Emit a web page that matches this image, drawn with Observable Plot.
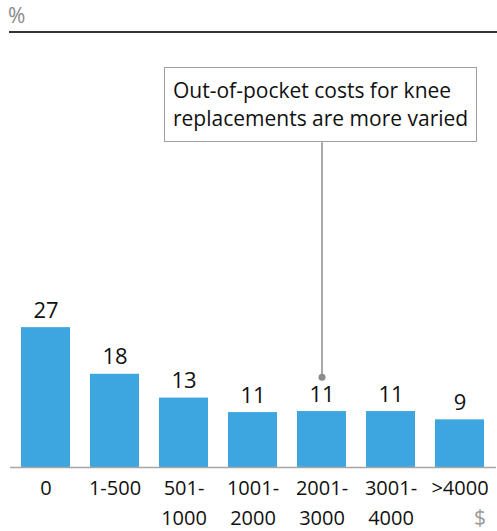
<!DOCTYPE html>
<html>
<head>
<meta charset="utf-8">
<script src="https://cdn.jsdelivr.net/npm/d3@7"></script>
<script src="https://cdn.jsdelivr.net/npm/@observablehq/plot@0.6"></script>
<style>
  html, body { margin: 0; padding: 0; background: #fff; }
  #wrap { position: relative; width: 497px; height: 531px; font-family: "Open Sans", Lato, sans-serif; overflow: hidden; }
  #head { position: relative; height: 40px; }
  #unit { position: absolute; left: 8px; top: 1px; font-size: 21px; color: #8a8a8a; }
  #toprule { position: absolute; left: 9px; right: 0; top: 31px; height: 2px; background: #333; }
  #note { position: absolute; left: 164px; top: 67px; width: 313px; height: 75px; border: 1px solid #a0a0a0; background: #fff;
          font-size: 21px; line-height: 28px; color: #111; box-sizing: border-box; }
  #note div { position: absolute; left: 8px; top: 8px; white-space: nowrap; }
  #dollar { position: absolute; left: 474px; top: 503px; font-size: 21px; color: #9a9a9a; }
</style>
</head>
<body>
<div id="wrap">
  <div id="head"><div id="unit">%</div><div id="toprule"></div></div>
  <div id="chart"></div>
  <div id="note"><div>Out-of-pocket costs for knee<br>replacements are more varied</div></div>
  <div id="dollar">$</div>
</div>
<script>
// Data
const categories = ["0", "1-500", "501-1000", "1001-2000", "2001-3000", "3001-4000", ">4000"];
const values = [27, 18, 13.4, 10.6, 10.8, 10.8, 9.2];
const valueLabels = ["27", "18", "13", "11", "11", "11", "9"];
const tickLabels = ["0", "1-500", "501-\n1000", "1001-\n2000", "2001-\n3000", "3001-\n4000", ">4000"];
// Annotation anchor (category and value range of the callout connector)
const noteCategory = "2001-3000";
const noteY = [17.4, 62.7];

const data = categories.map((c, i) => ({cat: c, value: values[i], label: valueLabels[i]}));

const chart = Plot.plot({
  width: 497,
  height: 491,
  marginLeft: 10,
  marginRight: 1,
  marginTop: 10,
  marginBottom: 64,
  style: {fontFamily: "'Open Sans', Lato, sans-serif", background: "transparent", overflow: "visible"},
  x: {domain: categories, paddingInner: 0.287, paddingOuter: 0.144, label: null},
  y: {domain: [0, 80.5], axis: null},
  marks: [
    Plot.barY(data, {x: "cat", y: "value", fill: "#3da5e0"}),
    Plot.ruleY([0], {stroke: "#a6a6a6", strokeWidth: 1.5}),
    Plot.text(data, {x: "cat", y: "value", text: "label", dy: -17, fontSize: 22, fill: "#111"}),
    Plot.ruleX([noteCategory], {x: d => d, y1: noteY[0], y2: noteY[1], stroke: "#8c8c8c", strokeWidth: 1.5}),
    Plot.dot([noteCategory], {x: d => d, y: noteY[0], r: 3.5, fill: "#8c8c8c", stroke: null}),
    Plot.axisX({tickSize: 0, tickPadding: 6, fontSize: 20, lineHeight: 1.52, tickFormat: (d) => tickLabels[categories.indexOf(d)], label: null, fill: "#111"})
  ]
});
document.getElementById("chart").appendChild(chart);
</script>
</body>
</html>
